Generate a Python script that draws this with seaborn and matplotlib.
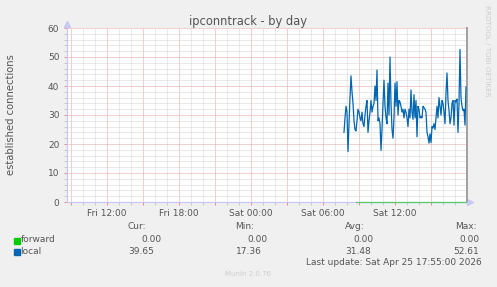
import numpy as np
import pandas as pd
import matplotlib
matplotlib.use("Agg")
import matplotlib.pyplot as plt
import matplotlib.dates as mdates
from matplotlib.ticker import MultipleLocator, FuncFormatter
from matplotlib.patches import Rectangle
import seaborn as sns

# ---------------- data ----------------
title = "ipconntrack - by day"
y_label = "established connections"
watermark = "RRDTOOL / TOBI OETIKER"
series_names = ["forward", "local"]
series_colors = ["#00CC00", "#0066B3"]
sample_freq = "5min"
local_start = "2026-04-25 07:45"
forward_start = "2026-04-25 08:45"
x_range = ["2026-04-24 08:40", "2026-04-25 18:00"]
y_range = [0, 60]

local_values = [
    24, 29, 33, 31, 17.4, 27, 36, 43.5, 38, 34,
    28, 25, 24.5, 28, 32, 31, 29, 28, 31, 27,
    26, 30, 33, 35, 24, 28, 31, 35, 31, 33,
    34, 40, 35, 45.5, 28, 29, 27, 17.8, 25, 34,
    42, 33, 29, 27, 41, 30, 50, 34, 25, 22,
    29, 41, 33, 41.5, 30, 35, 34.5, 33, 31, 32,
    29, 32, 31, 29, 26, 32, 29, 38.6, 31, 28.5,
    37, 29, 35, 22.5, 33, 32, 29, 29.5, 29, 33,
    32.5, 32, 31, 24, 22.5, 20.3, 23.5, 20.5, 26, 25.5,
    27, 25, 29, 33, 29, 36, 33, 30, 35, 34,
    31, 27, 37.5, 44.5, 35, 31.5, 27, 29, 34, 35,
    26.5, 35, 34.5, 35.5, 24, 34, 52.6, 36, 33, 31.5,
    32, 26.5, 39.65,
]
forward_values = [
    0, 0, 0, 0, 0, 0, 0, 0, 0, 0, 0, 0, 0, 0, 0, 0, 0, 0, 0, 0,
    0, 0, 0, 0, 0, 0, 0, 0, 0, 0, 0, 0, 0, 0, 0, 0, 0, 0, 0, 0,
    0, 0, 0, 0, 0, 0, 0, 0, 0, 0, 0, 0, 0, 0, 0, 0, 0, 0, 0, 0,
    0, 0, 0, 0, 0, 0, 0, 0, 0, 0, 0, 0, 0, 0, 0, 0, 0, 0, 0, 0,
    0, 0, 0, 0, 0, 0, 0, 0, 0, 0, 0, 0, 0, 0, 0, 0, 0, 0, 0, 0,
    0, 0, 0, 0, 0, 0, 0, 0, 0, 0, 0,
]

stat_headers = ["Cur:", "Min:", "Avg:", "Max:"]
forward_stats = ["0.00", "0.00", "0.00", "0.00"]
local_stats = ["39.65", "17.36", "31.48", "52.61"]
last_update = "Last update: Sat Apr 25 17:55:00 2026"
footer = "Munin 2.0.76"

# ---------------- figure ----------------
W, H = 497, 287
TXT = "#555555"
plt.rcParams["font.family"] = ["DejaVu Sans"]

fig = plt.figure(figsize=(W / 100, H / 100), dpi=100, facecolor="#F0F0F0")
ax = fig.add_axes([67 / W, (H - 202) / H, 400 / W, 174 / H])
ax.set_facecolor("white")

df = pd.concat([
    pd.DataFrame({"time": pd.date_range(forward_start, periods=len(forward_values), freq=sample_freq),
                  "value": forward_values, "series": series_names[0]}),
    pd.DataFrame({"time": pd.date_range(local_start, periods=len(local_values), freq=sample_freq),
                  "value": local_values, "series": series_names[1]}),
], ignore_index=True)

sns.lineplot(data=df, x="time", y="value", hue="series",
             palette=dict(zip(series_names, series_colors)),
             estimator=None, linewidth=0.9, legend=False, ax=ax)
for ln in ax.lines:
    ln.set_clip_on(False)
    ln.set_zorder(4)
ax.lines[0].set_alpha(0.55)

x_lo, x_hi = pd.Timestamp(x_range[0]), pd.Timestamp(x_range[1])
ax.set_xlim(x_lo, x_hi)
ax.set_ylim(*y_range)
ax.set_xlabel("")
ax.set_ylabel("")

ax.xaxis.set_major_locator(mdates.HourLocator(byhour=range(0, 24, 3)))
ax.xaxis.set_minor_locator(mdates.HourLocator())
x_hi_num = mdates.date2num(x_hi)


def fmt_x(v, pos):
    d = mdates.num2date(v)
    if v >= x_hi_num - 1e-6:
        return ""
    return d.strftime("%a %H:%M") if d.hour % 6 == 0 else ""


ax.xaxis.set_major_formatter(FuncFormatter(fmt_x))
ax.yaxis.set_major_locator(MultipleLocator(10))
ax.yaxis.set_minor_locator(MultipleLocator(2))
ax.yaxis.set_major_formatter(FuncFormatter(lambda v, p: f"{v:.0f}"))

ax.set_axisbelow(True)
dots = (0, (1, 1))
ax.grid(which="minor", color="#D4D4D4", linestyle=dots, linewidth=0.72)
ax.grid(which="major", color="#EBA0A0", linestyle=dots, linewidth=0.72)

ax.tick_params(axis="both", which="major", direction="out", length=2.5, width=0.72,
               color="#E89090", labelsize=6.5, labelcolor=TXT)
ax.tick_params(axis="both", which="minor", direction="out", length=2.0, width=0.72,
               color="#C8C8C8")
ax.tick_params(axis="x", which="major", pad=2.5)
ax.tick_params(axis="y", which="major", pad=3)

ax.spines["top"].set_visible(False)
ax.spines["left"].set_color("#C8C8F4")
ax.spines["bottom"].set_color("#C8C8F4")
ax.spines["left"].set_linewidth(0.9)
ax.spines["bottom"].set_linewidth(0.9)
ax.spines["right"].set_color("#A0A0A0")
ax.spines["right"].set_linewidth(1.4)

# axis arrows
ax.plot([1.008], [0], marker=">", markersize=4, color="#C8C8F4", transform=ax.transAxes, clip_on=False)
ax.plot([0], [1.025], marker="^", markersize=4, color="#C8C8F4", transform=ax.transAxes, clip_on=False)


def ftext(x, y, s, **kw):
    kw.setdefault("color", TXT)
    kw.setdefault("fontsize", 6.5)
    kw.setdefault("va", "center")
    fig.text(x / W, 1 - y / H, s, **kw)


ftext(248, 21, title, ha="center", fontsize=8.3)
ftext(11, 115, y_label, ha="center", rotation=90, fontsize=7.2)
ftext(487, 51, watermark, ha="center", rotation=270, fontsize=5.1, color="#CCCCCC")

# legend
for i, (name, col) in enumerate(zip(series_names, series_colors)):
    yc = 240.5 + i * 11.7
    fig.patches.append(Rectangle((14 / W, 1 - (yc + 3) / H), 6 / W, 6 / H,
                                 transform=fig.transFigure, color=col))
    ftext(20.5, yc - 1, name, ha="left")

header_right = [146, 254, 365, 477]
forward_right = [161.5, 267, 373, 479]
local_right = [154, 262, 370.7, 479]
for h, xr in zip(stat_headers, header_right):
    ftext(xr, 226.5, h, ha="right")
for v, xr in zip(forward_stats, forward_right):
    ftext(xr, 239.3, v, ha="right")
for v, xr in zip(local_stats, local_right):
    ftext(xr, 251, v, ha="right")
ftext(482, 262.7, last_update, ha="right")
ftext(248, 274, footer, ha="center", fontsize=5.0, color="#CCCCCC")

fig.savefig("out.png", dpi=100, facecolor=fig.get_facecolor())
